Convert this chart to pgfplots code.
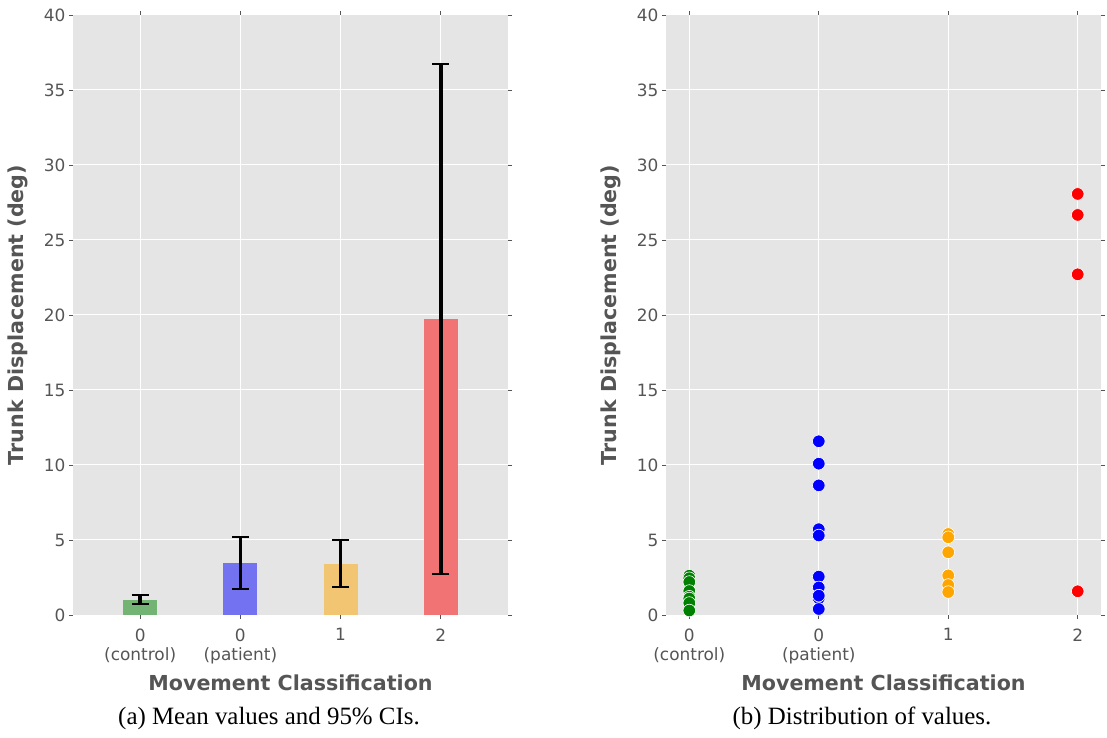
\documentclass[border=0pt]{standalone}
\usepackage{pgfplots}
\pgfplotsset{compat=1.18}
\usepackage{fontspec}
\setmainfont{DejaVu Sans}
\newfontfamily\capfont{Liberation Serif}
\definecolor{bgc}{RGB}{229,229,229}
\definecolor{txt}{RGB}{85,85,85}
\definecolor{bgreen}{RGB}{115,179,115}
\definecolor{bblue}{RGB}{115,115,242}
\definecolor{borange}{RGB}{242,197,115}
\definecolor{bred}{RGB}{242,115,115}
\definecolor{pgreen}{RGB}{0,128,0}
\definecolor{pblue}{RGB}{0,0,255}
\definecolor{porange}{RGB}{255,165,0}
\definecolor{pred}{RGB}{255,0,0}
\pgfplotsset{ggstyle/.style={
  scale only axis, width=435bp, height=600bp,
  axis background/.style={fill=bgc},
  axis line style={draw=none},
  grid=major, grid style={white, line width=1bp},
  tick align=outside, major tick length=4bp, tick style={txt, line width=0.8bp},
  ymin=0, ymax=40, ytick={0,5,...,40},
  xtick={0,1,2,3}, xticklabels={{0\\(control)},{0\\(patient)},1,2},
  xticklabel style={align=center, font=\fontsize{17}{19}\selectfont, text=txt, yshift=-6bp},
  yticklabel style={font=\fontsize{17}{19}\selectfont, text=txt},
  /pgf/number format/assume math mode=true,
  xlabel={Movement Classification}, ylabel={Trunk Displacement (deg)},
  label style={font=\fontsize{20.7}{24}\selectfont\bfseries, text=txt},
  xlabel style={at={(axis description cs:0.5,-0.1133)}, anchor=center},
  ylabel style={at={(axis description cs:-0.126,0.5)}, anchor=center},
}}
\pgfplotsset{barst/.style={ybar, bar width=0.34, bar shift=0pt, draw=none,
  error bars/y dir=both, error bars/y explicit,
  error bars/error bar style={line width=3.5bp, black},
  error bars/error mark options={rotate=90, line width=2.2bp, black, mark size=8.5bp}}}
\pgfplotsset{ptst/.style={only marks, mark=*, mark size=6.3bp, mark options={draw=white, line width=0.6bp, fill=#1}}}
\begin{document}
\begin{tikzpicture}
\useasboundingbox (0,0) rectangle (1107bp,738bp);
\begin{axis}[ggstyle, at={(73bp,123bp)}, anchor=south west, xmin=-0.67, xmax=3.67]
\addplot[barst, fill=bgreen] coordinates {(0,1.0) += (0,0.33) -= (0,0.27)};
\addplot[barst, fill=bblue] coordinates {(1,3.44) += (0,1.78) -= (0,1.71)};
\addplot[barst, fill=borange] coordinates {(2,3.40) += (0,1.62) -= (0,1.51)};
\addplot[barst, fill=bred] coordinates {(3,19.73) += (0,17.0) -= (0,17.0)};
\end{axis}
\begin{axis}[ggstyle, at={(666bp,123bp)}, anchor=south west, xmin=-0.18, xmax=3.18]
\addplot[ptst=pgreen] coordinates {(0,2.62) (0,2.45) (0,2.2) (0,1.6) (0,1.22) (0,1.1) (0,0.8) (0,0.3)};
\addplot[ptst=pblue] coordinates {(1,11.58) (1,10.09) (1,8.64) (1,5.72) (1,5.3) (1,2.56) (1,1.84) (1,1.29) (1,1.11) (1,0.4) (1,0.4) (1,1.29)};
\addplot[ptst=porange] coordinates {(2,5.4) (2,5.18) (2,4.18) (2,2.64) (2,2.0) (2,1.53)};
\addplot[ptst=pred] coordinates {(3,28.07) (3,26.67) (3,22.71) (3,1.58)};
\end{axis}
\node[anchor=base, font=\capfont\fontsize{25}{30}\selectfont] at (269bp,14bp) {(a) Mean values and 95\% CIs.};
\node[anchor=base, font=\capfont\fontsize{25}{30}\selectfont] at (862bp,14bp) {(b) Distribution of values.};
\end{tikzpicture}
\end{document}
